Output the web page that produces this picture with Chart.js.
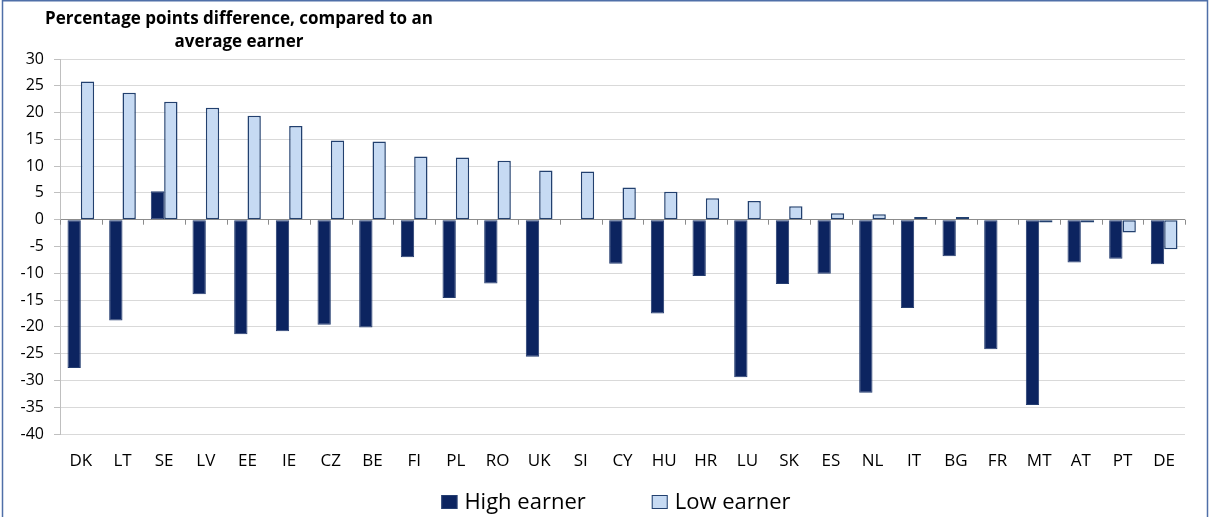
<!DOCTYPE html>
<html>
<head>
<meta charset="utf-8">
<script src="https://cdn.jsdelivr.net/npm/chart.js@4/dist/chart.umd.min.js"></script>
<style>
html,body{margin:0;padding:0;background:#fff;}
#wrap{width:1210px;height:517px;position:relative;}
</style>
</head>
<body>
<div id="wrap"><canvas id="c" width="1210" height="517"></canvas></div>
<script>
const categories = ['DK','LT','SE','LV','EE','IE','CZ','BE','FI','PL','RO','UK','SI','CY','HU','HR','LU','SK','ES','NL','IT','BG','FR','MT','AT','PT','DE'];
const highEarner = [-27.7,-18.8,5.3,-13.9,-21.4,-20.8,-19.6,-20.1,-7.0,-14.6,-11.9,-25.6,0,-8.2,-17.5,-10.5,-29.4,-12.0,-10.1,-32.3,-16.5,-6.8,-24.2,-34.6,-8.0,-7.3,-8.3];
const lowEarner = [25.8,23.7,22.0,20.9,19.4,17.5,14.8,14.6,11.8,11.6,11.0,9.2,9.0,6.0,5.2,4.0,3.5,2.5,1.2,1.0,0.5,0.5,0,-0.5,-0.5,-2.4,-5.5];
const seriesNames = ['High earner','Low earner'];
const titleLines = ['Percentage points difference, compared to an','average earner'];
const yMin = -40, yMax = 30, yStep = 5;

const FONT = "'Open Sans', 'Liberation Sans', sans-serif";

const extras = {
  id: 'extras',
  beforeDatasetsDraw(chart) {
    const ctx = chart.ctx, x = chart.scales.x, y = chart.scales.y;
    const y0 = y.getPixelForValue(0);
    const n = chart.data.labels.length;
    ctx.save();
    ctx.strokeStyle = '#8c8c8c';
    ctx.lineWidth = 1;
    for (let i = 0; i <= n; i++) {
      const px = Math.round(x.left + i * (x.right - x.left) / n) + 0.5;
      ctx.beginPath(); ctx.moveTo(px, y0); ctx.lineTo(px, y0 + 5); ctx.stroke();
    }
    ctx.restore();
  },
  afterDraw(chart) {
    const ctx = chart.ctx;
    ctx.save();
    // title
    ctx.fillStyle = '#000';
    ctx.font = "bold 17px " + FONT;
    ctx.textAlign = 'center';
    ctx.textBaseline = 'middle';
    ctx.fillText(titleLines[0], 239, 19);
    ctx.fillText(titleLines[1], 239, 42);
    // legend
    ctx.font = "22px " + FONT;
    ctx.textAlign = 'left';
    ctx.textBaseline = 'alphabetic';
    const ds = chart.data.datasets;
    const boxW = 16, gapBoxText = 7, gapItems = 66;
    const widths = ds.map(d => boxW + gapBoxText + ctx.measureText(d.label).width);
    const total = widths.reduce((a,b)=>a+b,0) + gapItems*(ds.length-1);
    let lx = 616 - total/2;
    const base = 509;
    ds.forEach((d, i) => {
      ctx.fillStyle = d.backgroundColor;
      ctx.fillRect(lx, 495, boxW, 14);
      ctx.strokeStyle = d.borderColor;
      ctx.lineWidth = 1;
      ctx.strokeRect(lx + 0.5, 495.5, boxW - 1, 13);
      ctx.fillStyle = '#000';
      ctx.fillText(d.label, lx + boxW + gapBoxText, base);
      lx += widths[i] + gapItems;
    });
    // outer frame
    ctx.strokeStyle = '#4f6fa8';
    ctx.lineWidth = 1.5;
    ctx.beginPath();
    ctx.moveTo(2.5, 517); ctx.lineTo(2.5, 0.75); ctx.lineTo(1207.5, 0.75); ctx.lineTo(1207.5, 517);
    ctx.stroke();
    ctx.restore();
  }
};

new Chart(document.getElementById('c'), {
  type: 'bar',
  data: {
    labels: categories,
    datasets: [
      { label: seriesNames[0], data: highEarner, backgroundColor: '#0c2460', borderColor: '#243d70', borderWidth: 1, borderSkipped: false },
      { label: seriesNames[1], data: lowEarner, backgroundColor: '#c6daf3', borderColor: '#22406f', borderWidth: 1.5, borderSkipped: false }
    ]
  },
  options: {
    responsive: false,
    animation: false,
    devicePixelRatio: 1,
    layout: { padding: { top: 59, right: 25, bottom: 33, left: 0 } },
    datasets: { bar: { categoryPercentage: 0.64, barPercentage: 1.0 } },
    plugins: { legend: { display: false }, tooltip: { enabled: false }, title: { display: false } },
    scales: {
      x: {
        grid: { display: false },
        border: { display: false },
        ticks: { color: '#000', font: { family: FONT, size: 17 }, padding: 9, maxRotation: 0, autoSkip: false },
        afterFit(s) { s.height = 50; }
      },
      y: {
        min: yMin, max: yMax,
        ticks: { stepSize: yStep, color: '#000', font: { family: FONT, size: 16 }, padding: 10 },
        grid: {
          color: ctx => (ctx.tick && ctx.tick.value === 0) ? '#8c8c8c' : '#d9d9d9',
          lineWidth: 1,
          tickLength: 6,
          tickColor: '#bfbfbf'
        },
        border: { display: true, color: '#bfbfbf' },
        afterFit(s) { s.width = 60; }
      }
    }
  },
  plugins: [extras]
});
</script>
</body>
</html>
